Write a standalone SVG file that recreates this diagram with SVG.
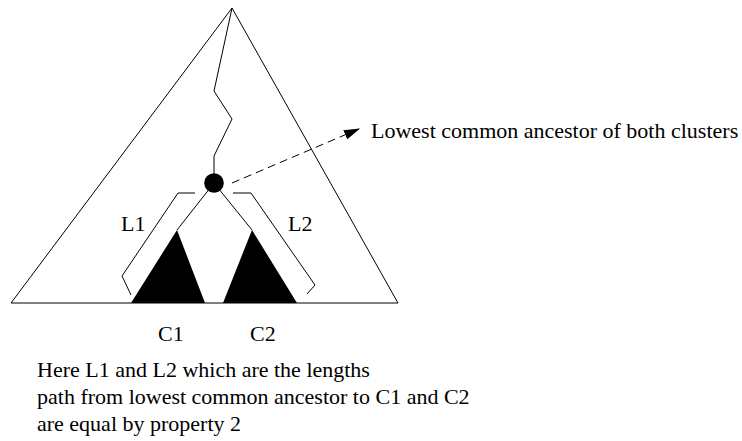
<svg xmlns="http://www.w3.org/2000/svg" width="742" height="441" viewBox="0 0 742 441">
<style>
  .ln { fill: none; stroke: #000; stroke-width: 1; stroke-linejoin: miter; }
  .txt { font-family: "Liberation Serif", "Times New Roman", serif; font-size: 22px; fill: #000; }
</style>
<defs>
  <marker id="ah" viewBox="0 0 16 10" refX="16" refY="5" markerWidth="16" markerHeight="10" markerUnits="userSpaceOnUse" orient="auto">
    <path d="M0,0 L16,5 L0,10 Z" fill="#000"/>
  </marker>
</defs>
<g id="tree">
  <path class="ln" d="M232,8 L11,303 L398,303 Z"/>
</g>
<g id="clusters">
  <path d="M177,230 L131,303 L205,303 Z" fill="#000"/>
  <path d="M252,230 L223,303 L297,303 Z" fill="#000"/>
</g>
<g id="connectors">
  <path class="ln" d="M232,8 L214,91 L232,119 L214,156 L214,175"/>
  <path class="ln" d="M214,183 L177,230"/>
  <path class="ln" d="M214,183 L252,230"/>
  <path class="ln" d="M195,193 L178,193 L122,276 L131,295"/>
  <path class="ln" d="M233,193 L251,193 L315,285 L307,294"/>
  <path class="ln" d="M232,183 L360,128.5" stroke-dasharray="8 5" marker-end="url(#ah)"/>
</g>
<g id="lca">
  <circle cx="214" cy="183" r="9.8" fill="#000"/>
</g>
<g id="labels">
  <text class="txt" x="121" y="231">L1</text>
  <text class="txt" x="288" y="231">L2</text>
  <text class="txt" x="158" y="341">C1</text>
  <text class="txt" x="250" y="341">C2</text>
  <text class="txt" x="371" y="138">Lowest common ancestor of both clusters</text>
  <text class="txt" x="37" y="377">Here L1 and L2 which are the lengths</text>
  <text class="txt" x="37" y="404">path from lowest common ancestor to C1 and C2</text>
  <text class="txt" x="37" y="431">are equal by property 2</text>
</g>
</svg>
